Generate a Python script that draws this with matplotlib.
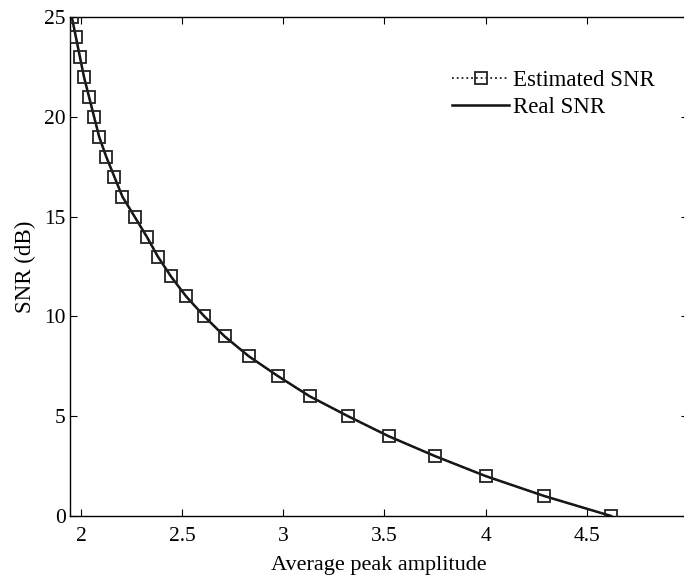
import matplotlib
matplotlib.use("Agg")
import matplotlib.pyplot as plt

snr_db = [0, 1, 2, 3, 4, 5, 6, 7, 8, 9, 10, 11, 12, 13, 14, 15, 16, 17, 18, 19, 20, 21, 22, 23, 24, 25]
est_amp = [4.62, 4.29, 4.00, 3.75, 3.52, 3.32, 3.13, 2.975, 2.83, 2.71, 2.61, 2.52, 2.445,
           2.38, 2.325, 2.265, 2.205, 2.165, 2.125, 2.09, 2.065, 2.04, 2.015, 1.995, 1.975, 1.955]
real_amp = [4.62, 4.29, 4.00, 3.75, 3.52, 3.32, 3.13, 2.975, 2.83, 2.71, 2.61, 2.52, 2.445,
            2.38, 2.325, 2.265, 2.205, 2.165, 2.125, 2.09, 2.065, 2.04, 2.015, 1.995, 1.975, 1.955]
xticks = [2, 2.5, 3, 3.5, 4, 4.5, 5]
xticklabels = ["2", "2.5", "3", "3.5", "4", "4.5", "5"]
yticks = [0, 5, 10, 15, 20, 25]

plt.rcParams['font.family'] = ['Liberation Serif', 'DejaVu Serif']

fig = plt.figure(figsize=(6.84, 5.76), dpi=100)
W, H = 684, 576
left, right, top, bottom = 70, 688, 17, 516
ax = fig.add_axes([left / W, 1 - bottom / H, (right - left) / W, (bottom - top) / H])

ax.plot(est_amp, snr_db, linestyle=':', color='#222222', linewidth=1.3,
        marker='s', markersize=9, markerfacecolor='none', markeredgecolor='#222222',
        markeredgewidth=1.3, label='Estimated SNR', zorder=3)
ax.plot(real_amp, snr_db, linestyle='-', color='#111111', linewidth=1.8,
        label='Real SNR', zorder=2)

ax.set_xlim(1.946, 5.0)
ax.set_ylim(0, 25)
ax.set_xticks(xticks)
ax.set_xticklabels(xticklabels)
ax.set_yticks(yticks)
ax.tick_params(direction='in', top=True, right=True, labelsize=15.5, length=5, width=0.8)
ax.tick_params(axis='x', pad=8)
ax.tick_params(axis='y', pad=3)
for s in ax.spines.values():
    s.set_linewidth(1.0)

ax.set_xlabel('Average peak amplitude', fontsize=16, labelpad=7)
ax.set_ylabel('SNR (dB)', fontsize=16.5, labelpad=6)

leg = fig.legend(loc='upper left', bbox_to_anchor=(452 / W, 1 - 70 / H),
                 bbox_transform=fig.transFigure, frameon=False, borderpad=0, borderaxespad=0,
                 fontsize=16.5, handlelength=2.5, handletextpad=0.15, labelspacing=0.25)

fig.savefig('out.png', dpi=100)
